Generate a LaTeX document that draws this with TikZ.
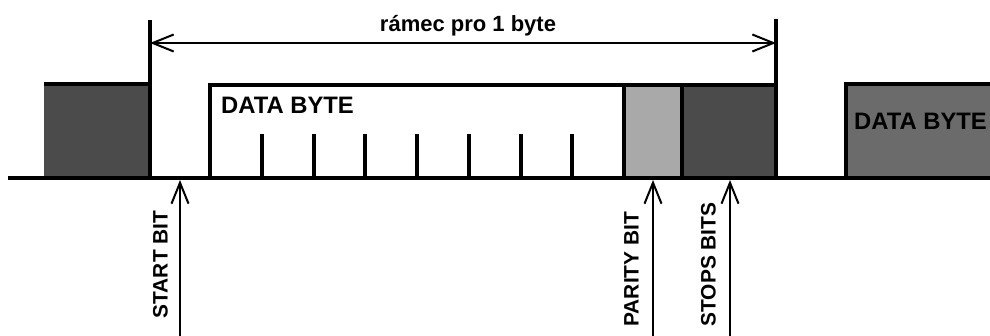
\documentclass[tikz,border=0pt]{standalone}
\usepackage{fontspec}
\setmainfont{Liberation Sans}
\usetikzlibrary{arrows.meta}
\definecolor{stopgray}{HTML}{4B4B4B}
\definecolor{paritygray}{HTML}{A9A9A9}
\definecolor{nextgray}{HTML}{6B6B6B}
\begin{document}
\begin{tikzpicture}[x=1pt,y=-1pt,
  signal/.style={line width=4pt},
  barb/.style={line width=2pt,-{Straight Barb[length=21pt,width=17pt]}},
  barbs/.style={line width=2pt,{Straight Barb[length=21pt,width=17pt]}-{Straight Barb[length=21pt,width=17pt]}},
  boxlabel/.style={inner sep=0pt,font=\fontsize{23.8}{28}\selectfont\bfseries},
  bitlabel/.style={inner sep=0pt,rotate=90,anchor=west,font=\fontsize{20.9}{25}\selectfont\bfseries},
  titlelabel/.style={inner sep=0pt,font=\fontsize{22}{26}\selectfont\bfseries}]
\useasboundingbox (0,0) rectangle (990,335);
\clip (0,0) rectangle (990,335);

% filled cells
\fill[stopgray] (44,178) rectangle (150,84);
\fill[paritygray] (624,178) rectangle (682,85);
\fill[stopgray] (682,178) rectangle (776,85);
\fill[nextgray] (846,178) rectangle (1000,84);

% previous frame stop level, next frame data level
\draw[signal] (44,84) -- (150,84);
\draw[signal] (846,178) -- (846,84) -- (1000,84);

% frame limits
\draw[signal] (150,20) -- (150,178);
\draw[signal] (776,19) -- (776,178);

% data byte, parity and stop cells
\draw[signal] (210,178) -- (210,85) -- (776,85);
\draw[signal] (624,85) -- (624,178);
\draw[signal] (682,85) -- (682,178);
\foreach \k in {1,...,7}
  \draw[signal] ({210+51.75*\k},134) -- ({210+51.75*\k},178);

% time axis
\draw[signal] (8,178) -- (990,178);

% frame length
\coordinate (dimL) at (150,43);
\coordinate (dimR) at (776,43);
\draw[barbs] (dimL) -- (dimR);
\node[titlelabel,anchor=base] (title) at (468,31) {rámec pro 1 byte};

% box texts
\node[boxlabel,anchor=base west] (data) at (221,113.5) {DATA BYTE};
\node[boxlabel,anchor=base west] (nextdata) at (854,129.5) {DATA BYTE};

% bit markers
\coordinate (startfoot) at (180,340);
\coordinate (starttip) at (180,180);
\coordinate (parityfoot) at (653,340);
\coordinate (paritytip) at (653,180);
\coordinate (stopfoot) at (730,340);
\coordinate (stoptip) at (730,180);
\draw[barb] (startfoot) -- (starttip);
\draw[barb] (parityfoot) -- (paritytip);
\draw[barb] (stopfoot) -- (stoptip);

\node[bitlabel] (start) at (160.5,318.5) {START BIT};
\node[bitlabel] (parity) at (631.5,326.7) {PARITY BIT};
\node[bitlabel] (stop) at (708.3,326.7) {STOPS BITS};
\end{tikzpicture}
\end{document}
